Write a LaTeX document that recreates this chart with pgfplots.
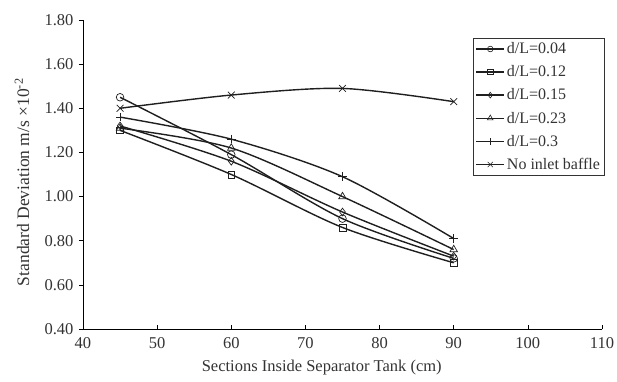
\documentclass[border=0pt]{standalone}
\usepackage{pgfplots}
\pgfplotsset{compat=1.18}
\usepackage{fontspec}
\setmainfont{Liberation Serif}
\begin{document}
\begin{tikzpicture}
\begin{axis}[
  scale only axis,
  width=519bp, height=309bp,
  xmin=40, xmax=110, ymin=0.4, ymax=1.8,
  xtick={40,50,...,110},
  ytick={0.4,0.6,...,1.81},
  axis lines*=left,
  axis line style={-, line width=0.8bp},
  tick align=inside,
  major tick length=4bp,
  y tick style={xshift=-4bp},
  tick style={black, line width=0.6bp},
  /pgf/number format/assume math mode=true,
  yticklabel style={/pgf/number format/fixed, /pgf/number format/precision=2, /pgf/number format/fixed zerofill, xshift=-6bp},
  xticklabel style={yshift=-5bp},
  tick label style={font=\fontsize{16.5bp}{18bp}\selectfont, text=black!80},
  xlabel={Sections Inside Separator Tank (cm)},
  ylabel={Standard Deviation m/s ×10\textsuperscript{-2}},
  xlabel style={at={(rel axis cs:0.46,0)}, anchor=center, yshift=-39bp, font=\fontsize{16.5bp}{18bp}\selectfont},
  ylabel style={at={(rel axis cs:0,0.475)}, anchor=center, rotate=0, yshift=61bp, font=\fontsize{17.5bp}{18bp}\selectfont},
  label style={text=black!80},
  legend style={at={(0.751,0.942)}, anchor=north west, draw=black!80, line width=0.6bp,
    font=\fontsize{16bp}{17bp}\selectfont, text=black!80, row sep=6.5bp, inner sep=2.5bp},
  legend cell align=left,
  legend image code/.code={\draw[mark repeat=2,mark phase=2, mark options={solid, fill=white, line width=0.6bp, scale=0.75}] plot coordinates {(0bp,0bp) (14bp,0bp) (28bp,0bp)};},
  every axis plot/.append style={line width=1.4bp, black!88, smooth, mark options={solid, fill=white, line width=0.7bp}},
]
\coordinate (O) at (rel axis cs:0,0);
\addplot[mark=o, mark size=3.8bp] coordinates {(45,1.45) (60,1.19) (75,0.90) (90,0.72)};
\addlegendentry{d/L=0.04}
\addplot[mark=square, mark size=3.4bp] coordinates {(45,1.30) (60,1.10) (75,0.86) (90,0.70)};
\addlegendentry{d/L=0.12}
\addplot[mark=diamond, mark size=3.8bp] coordinates {(45,1.32) (60,1.16) (75,0.93) (90,0.73)};
\addlegendentry{d/L=0.15}
\addplot[mark=triangle, mark size=4.3bp] coordinates {(45,1.31) (60,1.22) (75,1.00) (90,0.76)};
\addlegendentry{d/L=0.23}
\addplot[mark=+, mark size=4.3bp] coordinates {(45,1.36) (60,1.26) (75,1.09) (90,0.81)};
\addlegendentry{d/L=0.3}
\addplot[mark=x, mark size=4.8bp] coordinates {(45,1.40) (60,1.46) (75,1.49) (90,1.43)};
\addlegendentry{No inlet baffle}
\end{axis}
\pgfresetboundingbox
\path[use as bounding box] (O) ++(-83bp,-53bp) rectangle ++(617bp,382bp);
\end{tikzpicture}
\end{document}
